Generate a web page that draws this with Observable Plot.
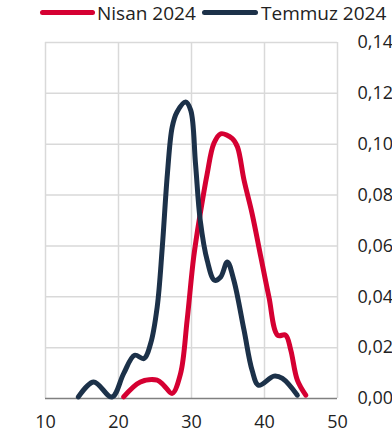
<!DOCTYPE html>
<html><head><meta charset="utf-8">
<script src="https://cdn.jsdelivr.net/npm/d3@7"></script>
<script src="https://cdn.jsdelivr.net/npm/@observablehq/plot@0.6"></script>
<style>
body{margin:0;background:#fff;font-family:"Open Sans",sans-serif;}
#wrap{position:relative;width:392px;height:441px;}
#legend{position:absolute;left:0;top:0;width:392px;height:26px;font-size:19px;color:#222;}
.sw{position:absolute;top:10px;height:5px;border-radius:3px;}
.lb{position:absolute;top:0px;line-height:26px;white-space:nowrap;}
#chart{position:absolute;left:0;top:26px;}
</style></head><body>
<div id="wrap">
<div id="legend"></div>
<div id="chart"></div>
</div>
<script>
const seriesNames = ["Nisan 2024", "Temmuz 2024"];
const seriesColors = ["#d50032", "#1c3149"];
const nisanX = [20.7, 23.0, 25.3, 26.2, 27.35, 28.5, 29.4, 30.3, 31.2, 32.15, 33.05, 34.0, 35.6, 36.3, 37.2, 38.3, 39.5, 40.6, 41.8, 42.9, 43.6, 44.5, 45.65];
const nisanY = [0.0006, 0.0065, 0.0072, 0.0052, 0.002, 0.0098, 0.0308, 0.0556, 0.0727, 0.0884, 0.1002, 0.1041, 0.1022, 0.0989, 0.0858, 0.0727, 0.0556, 0.040, 0.0249, 0.0249, 0.019, 0.0072, 0.0013];
const temmuzX = [14.5, 16.6, 19.1, 20.7, 22.2, 23.5, 24.4, 25.3, 26.0, 26.7, 27.35, 28.0, 29.2, 29.9, 30.55, 31.2, 32.15, 33.15, 34.0, 34.9, 35.8, 37.2, 38.3, 39.2, 41.3, 42.45, 44.5];
const temmuzY = [0.0006, 0.0065, 0.0006, 0.0098, 0.017, 0.0157, 0.0216, 0.036, 0.0596, 0.0884, 0.1067, 0.1126, 0.1166, 0.1133, 0.0923, 0.070, 0.0543, 0.0465, 0.0478, 0.0537, 0.0465, 0.0268, 0.0111, 0.0052, 0.0088, 0.0079, 0.0013];
const xTicks = [10, 20, 30, 40, 50];
const yTicks = [0, 0.02, 0.04, 0.06, 0.08, 0.10, 0.12, 0.14];

const nisan = nisanX.map((x, i) => ({x, y: nisanY[i], s: seriesNames[0]}));
const temmuz = temmuzX.map((x, i) => ({x, y: temmuzY[i], s: seriesNames[1]}));

// legend
const leg = document.getElementById("legend");
const legPos = [{sw: 40, w: 55, t: 97}, {sw: 202, w: 56, t: 261}];
seriesNames.forEach((n, i) => {
  const s = document.createElement("div");
  s.className = "sw"; s.style.left = legPos[i].sw + "px"; s.style.width = legPos[i].w + "px";
  s.style.background = seriesColors[i];
  leg.appendChild(s);
  const t = document.createElement("div");
  t.className = "lb"; t.style.left = legPos[i].t + "px"; t.textContent = n;
  leg.appendChild(t);
});

const fmt = d => d3.format(".2f")(d).replace(".", ",");
const plot = Plot.plot({
  width: 392, height: 415,
  marginTop: 16, marginBottom: 43, marginLeft: 45, marginRight: 55,
  style: {fontFamily: "Open Sans", fontSize: "18px", color: "#222", background: "#fff"},
  x: {domain: [10, 50], ticks: xTicks, tickSize: 0, tickPadding: 17, label: null},
  y: {domain: [0, 0.14], ticks: yTicks, tickFormat: fmt, axis: "right", tickSize: 0, tickPadding: 20, label: null},
  marks: [
    Plot.gridX(xTicks, {stroke: "#d9d9d9", strokeOpacity: 1, strokeWidth: 1.5}),
    Plot.gridY(yTicks.slice(1), {stroke: "#d9d9d9", strokeOpacity: 1, strokeWidth: 1.5}),
    Plot.ruleY([0], {stroke: "#808080", strokeWidth: 1.5}),
    Plot.line(nisan, {x: "x", y: "y", stroke: seriesColors[0], strokeWidth: 5, curve: "catmull-rom", strokeLinecap: "round", strokeLinejoin: "round"}),
    Plot.line(temmuz, {x: "x", y: "y", stroke: seriesColors[1], strokeWidth: 5, curve: "catmull-rom", strokeLinecap: "round", strokeLinejoin: "round"})
  ]
});
document.getElementById("chart").appendChild(plot);
</script>
</body></html>
